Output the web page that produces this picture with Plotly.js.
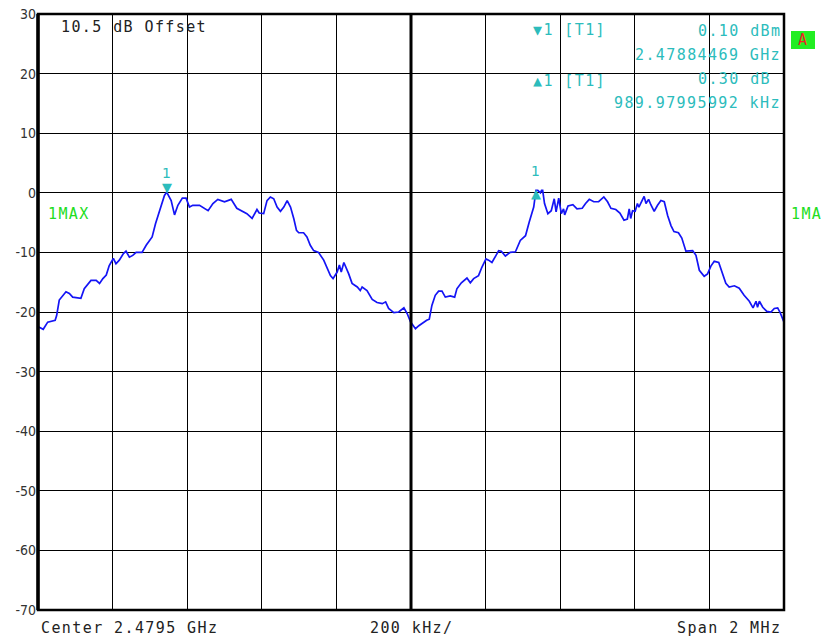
<!DOCTYPE html>
<html>
<head>
<meta charset="utf-8">
<script src="https://cdn.plot.ly/plotly-3.0.1.min.js"></script>
<style>html,body{margin:0;padding:0;background:#fff;}#chart{width:821px;height:638px;}</style>
</head>
<body>
<div id="chart"></div>
<script>
// Frequency offset from center (kHz), center = 2.4795 GHz, span 2 MHz
const freqKHz = [-998,-986,-974,-954,-950,-943,-925,-916,-907,-885,-876,-858,-844,-835,-826,-817,-809,-798,-791,-782,-771,-764,-755,-746,-737,-721,-710,-694,-685,-672,-661,-655,-643,-634,-625,-613,-603,-594,-585,-567,-558,-544,-531,-518,-500,-482,-467,-453,-440,-426,-419,-413,-407,-395,-386,-377,-368,-359,-350,-341,-332,-323,-314,-307,-301,-288,-279,-270,-261,-248,-234,-225,-216,-209,-198,-192,-187,-180,-174,-167,-158,-144,-136,-131,-118,-104,-91,-77,-68,-60,-46,-33,-19,-10,-1,12,21,29,42,49,56,65,74,83,92,105,117,123,135,150,159,168,181,190,201,208,217,228,235,242,253,266,280,293,307,317,329,335,340,347,350,353,358,367,376,384,389,396,403,409,412,421,434,445,459,468,478,490,503,517,527,536,549,560,571,580,585,589,594,601,607,611,619,625,630,637,643,652,661,670,679,688,697,705,717,726,737,746,755,764,773,786,795,804,813,825,835,844,853,867,880,893,907,917,925,929,934,943,954,965,974,983,989,1000];
const levelDbm = [-22.5,-22.9,-21.7,-21.4,-20.6,-18.0,-16.6,-16.9,-17.5,-17.7,-16.1,-14.7,-14.7,-15.2,-14.4,-13.8,-12.2,-11.0,-11.9,-11.3,-10.2,-9.8,-10.8,-10.5,-10.0,-10.0,-8.8,-7.4,-5.2,-2.7,-0.45,0.1,-1.3,-3.7,-2.1,-0.9,-0.9,-2.4,-2.1,-2.1,-2.4,-3.0,-1.8,-1.1,-1.5,-1.1,-2.6,-3.0,-3.5,-4.3,-3.5,-2.8,-3.4,-3.5,-1.3,-0.7,-1.0,-2.4,-3.1,-2.4,-1.3,-2.4,-4.4,-6.3,-6.7,-6.7,-7.4,-8.8,-9.7,-10.0,-11.3,-12.7,-13.9,-14.4,-13.3,-12.1,-13.3,-11.7,-12.5,-13.6,-15.2,-15.8,-16.4,-15.8,-16.4,-17.9,-18.4,-18.6,-18.3,-19.4,-20.1,-20.0,-19.3,-20.3,-21.7,-22.8,-22.3,-21.9,-21.4,-21.2,-18.9,-17.2,-16.5,-16.5,-17.5,-17.3,-17.5,-16.1,-15.1,-14.3,-15.1,-14.4,-13.9,-12.5,-11.1,-11.3,-11.7,-10.5,-9.7,-9.8,-10.6,-10.0,-9.9,-8.0,-7.2,-4.9,-2.4,0.4,0.4,0.0,0.4,0.4,-1.8,-3.5,-3.0,-1.0,-3.2,-0.9,-3.5,-2.7,-3.7,-2.2,-2.0,-2.7,-2.6,-1.8,-1.1,-1.5,-1.5,-0.7,-1.5,-2.6,-2.8,-3.4,-4.6,-4.4,-2.7,-4.3,-3.0,-3.1,-1.8,-2.4,-1.3,-0.6,-1.8,-1.1,-2.0,-3.1,-2.1,-1.3,-1.5,-3.8,-5.5,-6.5,-6.7,-7.6,-9.8,-9.8,-9.7,-10.5,-13.0,-14.0,-13.6,-12.3,-11.5,-11.7,-13.6,-15.2,-15.8,-15.6,-16.0,-17.2,-18.2,-19.3,-18.2,-19.2,-18.2,-19.2,-19.9,-20.0,-19.4,-19.3,-20.0,-21.7];

// Markers
const markerFreq = [-655.3];      // marker 1 (kHz offset)
const markerLevel = [0.10];       // dBm
const deltaFreq = [334.7];        // delta marker position (kHz offset)
const deltaLevel = [0.40];        // dBm (0.10 + 0.30 dB)
const markerLabels = ['1'];
const yTicks = [30,20,10,0,-10,-20,-30,-40,-50,-60,-70];

const teal = '#2cbcbc';
const traces = [
  {x: freqKHz, y: levelDbm, type: 'scatter', mode: 'lines',
   line: {color: '#1414f5', width: 1.7}, hoverinfo: 'skip'}
];

const mono = 'DejaVu Sans Mono, monospace';
const sp = (t, ls) => '<span style="letter-spacing:' + ls + 'px">' + t + '</span>';
const ann = (x, y, text, color, anchor, size, family) => ({
  xref: 'paper', yref: 'paper', x: x, y: y, text: sp(text, 1.4), showarrow: false,
  xanchor: anchor, yanchor: 'middle', font: {family: family || mono, size: size || 15, color: color}
});
const dataAnn = (x, y, text, yanchor, yshift, size) => ({
  xref: 'x', yref: 'y', x: x, y: y, text: text, showarrow: false,
  xanchor: 'center', yanchor: yanchor, yshift: yshift, borderpad: 0,
  font: {family: 'DejaVu Sans', size: size, color: teal}
});

// paper coords: plot spans x 38..784, y 14..610
const px = v => (v - 38) / 746;
const py = v => (610 - v) / 596;

const layout = {
  width: 821, height: 638,
  margin: {l: 38, r: 37, t: 14, b: 28},
  paper_bgcolor: '#fff', plot_bgcolor: '#fff',
  showlegend: false,
  xaxis: {range: [-1000, 1000], dtick: 200, tick0: -1000, showticklabels: false,
          showgrid: true, gridcolor: '#000', gridwidth: 1, zeroline: false,
          showline: false, fixedrange: true},
  yaxis: {range: [-70, 30], tickvals: yTicks, ticktext: yTicks.map(String),
          showgrid: true, gridcolor: '#000', gridwidth: 1, zeroline: false,
          ticks: '', tickfont: {family: 'DejaVu Sans Condensed, DejaVu Sans', size: 14, color: '#333'},
          ticklabelstandoff: 1, showline: false, fixedrange: true},
  shapes: [
    {type: 'rect', xref: 'paper', yref: 'paper', x0: 0, x1: 1, y0: 0, y1: 1,
     line: {color: '#000', width: 2.5}},
    {type: 'line', xref: 'paper', yref: 'paper', x0: 0, x1: 0, y0: 0, y1: 1,
     line: {color: '#000', width: 3.5}},
    {type: 'line', xref: 'x', yref: 'paper', x0: 0, x1: 0, y0: 0, y1: 1,
     line: {color: '#000', width: 3}},
    {type: 'rect', xref: 'paper', yref: 'paper', x0: px(791), x1: px(815), y0: py(49), y1: py(31),
     fillcolor: '#22ee22', line: {width: 0}}
  ],
  annotations: [
    dataAnn(markerFreq[0], markerLevel[0], '\u25BC', 'bottom', -4, 13),
    dataAnn(markerFreq[0], markerLevel[0], markerLabels[0], 'bottom', 10, 14),
    dataAnn(deltaFreq[0], deltaLevel[0], '\u25B2', 'middle', -3, 13),
    dataAnn(deltaFreq[0], deltaLevel[0], markerLabels[0], 'bottom', 10, 14),
    ann(px(59), py(27), '10.5 dB Offset', '#222', 'left'),
    ann(px(531), py(30), '\u25BC1 [T1]', teal, 'left'),
    ann(px(783), py(31), '0.10 dBm', teal, 'right'),
    ann(px(783), py(55), '2.47884469 GHz', teal, 'right'),
    ann(px(531), py(81), '\u25B21 [T1]', teal, 'left'),
    ann(px(783), py(79), '0.30 dB\u00A0', teal, 'right'),
    ann(px(783), py(103), '989.97995992 kHz', teal, 'right'),
    ann(px(803), py(40), 'A', '#ee2222', 'center'),
    ann(px(46), py(214), '1MAX', '#22dd22', 'left'),
    ann(px(789), py(214), '1MA', '#22dd22', 'left'),
    ann(px(39), py(628), 'Center 2.4795 GHz', '#222', 'left'),
    ann(px(411), py(628), '200 kHz/', '#222', 'center'),
    ann(px(783), py(628), 'Span 2 MHz', '#222', 'right')
  ]
};

Plotly.newPlot('chart', traces, layout, {displayModeBar: false, staticPlot: true});
</script>
</body>
</html>
